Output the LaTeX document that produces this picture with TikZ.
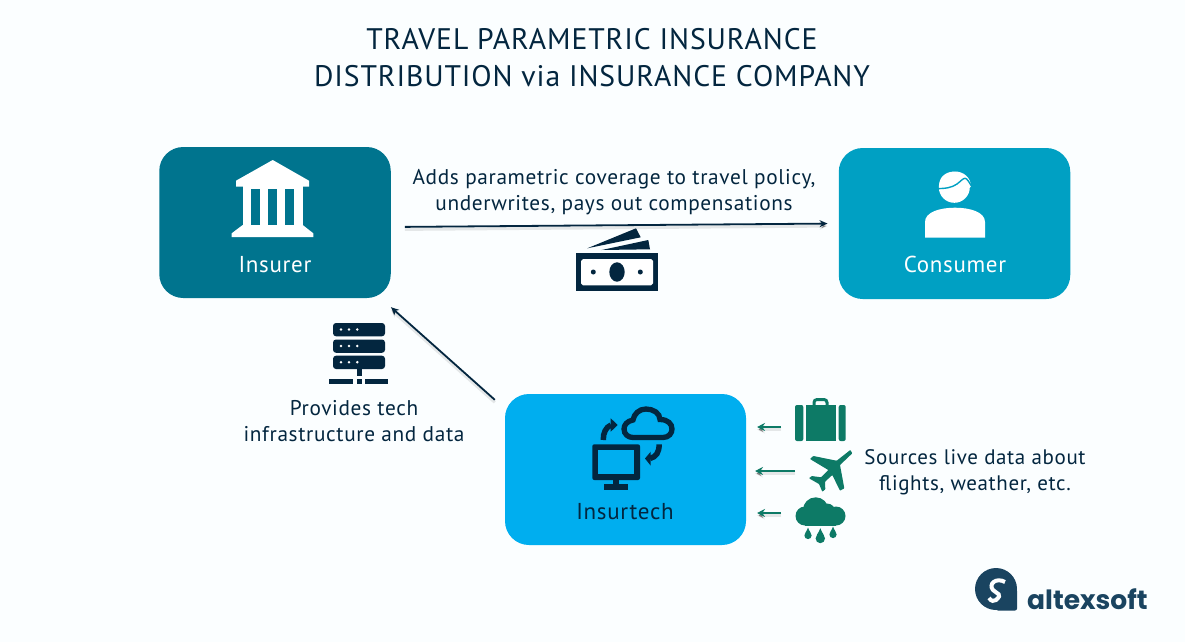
\documentclass[tikz,border=0pt]{standalone}
\usepackage{xcolor}
\usepackage{fontspec}
\usepackage{tikz}
\usetikzlibrary{arrows.meta}
\setmainfont{PT Sans}[LetterSpace=3]
\newfontfamily\logofont{Poppins}
\definecolor{pagebg}{HTML}{FBFEFF}
\definecolor{inkblue}{HTML}{03263F}
\definecolor{insurerteal}{HTML}{00748E}
\definecolor{consumerblue}{HTML}{00A0C3}
\definecolor{techblue}{HTML}{00AEEF}
\definecolor{sourcegreen}{HTML}{0D7A66}
\definecolor{logoblue}{HTML}{1A4460}

\begin{document}
\begin{tikzpicture}[x=1pt, y=-1pt,
    every node/.style={text=inkblue, font=\fontsize{21.3}{26}\selectfont, align=center},
    boxnode/.style={rectangle, rounded corners=24pt, minimum width=231.5pt, minimum height=151pt, inner sep=0pt},
    boxlabel/.style={font=\fontsize{23}{26}\selectfont},
    flowarrow/.style={-{Stealth[length=8pt,width=7pt]}, line width=1.8pt, draw=inkblue,
        preaction={draw=black!50, draw opacity=0.18, line width=3pt, transform canvas={yshift=-2.5pt}}},
    sourcearrow/.style={-{Stealth[length=8pt,width=8pt]}, line width=1.8pt, draw=sourcegreen,
        preaction={draw=black!50, draw opacity=0.18, line width=3pt, transform canvas={yshift=-2.5pt}}}]
    % Page
    \fill[pagebg] (0,0) rectangle (1185,642);
    \useasboundingbox (0,0) rectangle (1185,642);

    % Title
    \node[font=\fontsize{29.7}{37}\selectfont] (title) at (592,58) {TRAVEL PARAMETRIC INSURANCE\\DISTRIBUTION via INSURANCE COMPANY};

    % Boxes
    \node[boxnode, fill=insurerteal] (insurer) at (275,222.5) {};
    \node[boxnode, fill=consumerblue] (consumer) at (954.5,223.5) {};
    \node[boxnode, fill=techblue, minimum width=241pt] (insurtech) at (625.5,469.5) {};
    \node[boxlabel, text=white] (insurer_label) at (275,264.5) {Insurer};
    \node[boxlabel, text=white] (consumer_label) at (955,264) {Consumer};
    \node[boxlabel] (insurtech_label) at (625,511.5) {Insurtech};

    % Texts
    \node (coverage_text) at (614,192) {Adds parametric coverage to travel policy,\\underwrites, pays out compensations};
    \node (tech_text) at (354,421) {Provides tech\\infrastructure and data};
    \node[font=\fontsize{21}{26}\selectfont] (sources_text) at (975,472) {Sources live data about\\flights, weather, etc.};

    % Edges
    \draw[flowarrow, shorten >=11pt, shorten <=14pt] ([yshift=-4.5pt]insurer.east) -- (consumer.west);
    \draw[flowarrow] ([shift={(-10,6)}]insurtech.north west) -- ([yshift=-9pt]insurer.south east);

    % Bank icon
    \fill[white] (272.7,160) -- (309,180.7) -- (309,186.7) -- (236,186.7) -- (236,180.7) -- cycle;
    \fill[white] (242.7,186) rectangle (302.7,226);
    \fill[white] (242.7,225) -- (302.7,225) -- (313.3,233.3) -- (313.3,237) -- (231.7,237) -- (231.7,233.3) -- cycle;
    \foreach \x in {251,268.3,285.3}
        \fill[insurerteal] (\x,189) rectangle (\x+8.7,225);

    % Money icon
    \fill[inkblue] (587.3,248.3) -- (636,228.3) -- (640.7,237.3) -- cycle;
    \fill[inkblue] (601.7,250) -- (648.3,240) -- (650,249.3) -- cycle;
    \fill[inkblue] (575.7,253.3) rectangle (658.3,291);
    \fill[white] (583,259) -- (651,259) -- (653,261) -- (653,283.3) -- (651,285.3) -- (583,285.3) -- (581,283.3) -- (581,261) -- cycle;
    \fill[inkblue] (617,272) ellipse (7.7 and 9.7);
    \fill[inkblue] (593.3,272) circle (2.5);
    \fill[inkblue] (640.3,272) circle (2.5);

    % Person icon
    \fill[white] (954.3,187.3) circle (15.5);
    \fill[white] (939.5,187) .. controls (938,178) and (945,171.5) .. (955,171.5) .. controls (963,171.5) and (971,177) .. (971,187) -- cycle;
    \draw[consumerblue, line width=1.4pt] (937,188.6) .. controls (946,188.6) and (952,187.5) .. (957,184) .. controls (961,181) and (963,178.3) .. (965,178.3) .. controls (967,178.3) and (969,182) .. (972,187);
    \fill[white] (925,237.7) -- (925,222) .. controls (925,212) and (940,207.7) .. (955,207.7) .. controls (970,207.7) and (985,212) .. (985,222) -- (985,237.7) -- cycle;

    % Server icon
    \foreach \y in {323,339.5,355.7} {
        \fill[inkblue, rounded corners=3pt] (333,\y) rectangle (385,\y+13.3);
        \foreach \x in {341,349,357.3}
            \fill[white] (\x,\y+6.5) circle (1.4);
    }
    \fill[inkblue] (356.7,369) rectangle (361.7,376);
    \fill[inkblue] (329.3,379) rectangle (353.3,384);
    \fill[inkblue] (356.7,379) rectangle (361.7,384);
    \fill[inkblue] (365,379) rectangle (388.3,384);

    % Cloud and monitor icon
    \fill[inkblue, rounded corners=2pt] (592.3,444.3) rectangle (640,480);
    \fill[techblue] (598,450) rectangle (634,474);
    \fill[inkblue] (613.3,480) rectangle (619.3,484.3);
    \fill[inkblue] (604,484.3) rectangle (628,490);
    \draw[inkblue, line width=5.3pt] (633,437.5) -- (663,437.5) .. controls (669,437.5) and (672,433) .. (672,429) .. controls (672,424) and (668,419.5) .. (660,419.5) .. controls (660,413) and (653,409) .. (646,409) .. controls (639,409) and (634,414) .. (633,420) .. controls (627,421) and (624,425) .. (624,429) .. controls (624,434) and (628,437.5) .. cycle;
    \draw[inkblue, line width=5.5pt] (603.3,440) .. controls (603,433) and (606,427) .. (611,425);
    \fill[inkblue] (617.7,425) -- (610.7,418.3) -- (610.7,431.7) -- cycle;
    \draw[inkblue, line width=5.5pt] (659,444.3) .. controls (659.5,452) and (656,457) .. (650,458.5);
    \fill[inkblue] (645,458.5) -- (650.7,451.7) -- (650.7,465.7) -- cycle;

    % Suitcase icon
    \fill[sourcegreen, rounded corners=2pt] (795,405) rectangle (803.3,441);
    \fill[sourcegreen] (805.7,405) rectangle (836.3,441);
    \fill[sourcegreen, rounded corners=2pt] (838.7,405) rectangle (845.7,441);
    \draw[sourcegreen, line width=3pt, rounded corners=3pt] (814,405) -- (814,399.5) -- (827,399.5) -- (827,405);

    % Plane icon
    \fill[sourcegreen, rounded corners=0.6pt] (850.3,450) -- (836.7,460.7) -- (813.3,456) -- (810,459) -- (828.3,470) -- (821,477.3) -- (811.7,476) -- (809,478.3) -- (819,484) -- (822.3,491.7) -- (825.3,489.3) -- (825,481.7) -- (832.3,475) -- (840,490.7) -- (844.3,488.3) -- (840,465) -- (852.3,453.3) -- cycle;

    % Rain icon
    \fill[sourcegreen] (815.7,510) circle (12.7);
    \fill[sourcegreen] (805,516) circle (9.5);
    \fill[sourcegreen] (836,516) circle (9.5);
    \fill[sourcegreen] (827,512) circle (8.5);
    \fill[sourcegreen] (805,512) rectangle (836,525.5);
    \foreach \x/\y/\r in {808/535.5/3.6, 820.3/538.5/4.7, 833/534.5/3.6}
        \fill[sourcegreen] (\x,\y-2.2*\r) .. controls (\x+0.4*\r,\y-\r) and (\x+\r,\y-0.7*\r) .. (\x+\r,\y) arc (0:180:\r) .. controls (\x-\r,\y-0.7*\r) and (\x-0.4*\r,\y-\r) .. cycle;

    % Source arrows
    \coordinate (suitcase) at (781,427);
    \coordinate (plane) at (795,471);
    \coordinate (rain) at (781,513);
    \coordinate (suitcase_in) at (757,427);
    \coordinate (plane_in) at (755,471);
    \coordinate (rain_in) at (757,513);
    \draw[sourcearrow] (suitcase) -- (suitcase_in);
    \draw[sourcearrow] (plane) -- (plane_in);
    \draw[sourcearrow] (rain) -- (rain_in);

    % Logo
    \fill[logoblue] (996,589) circle (21);
    \fill[logoblue, rounded corners=2pt] (996,589) rectangle (1017,610.5);
    \draw[white, line width=4pt] (1005,582) .. controls (996,577) and (988,584) .. (993,590) .. controls (997,594) and (1003,594) .. (996,600) .. controls (994,602) and (991,601) .. (989,598);
    \node[text=logoblue, font=\logofont\bfseries\fontsize{26.5}{27}\selectfont, anchor=base west, inner sep=0pt] (logo_text) at (1027,609.5) {altexsoft};
\end{tikzpicture}
\end{document}
